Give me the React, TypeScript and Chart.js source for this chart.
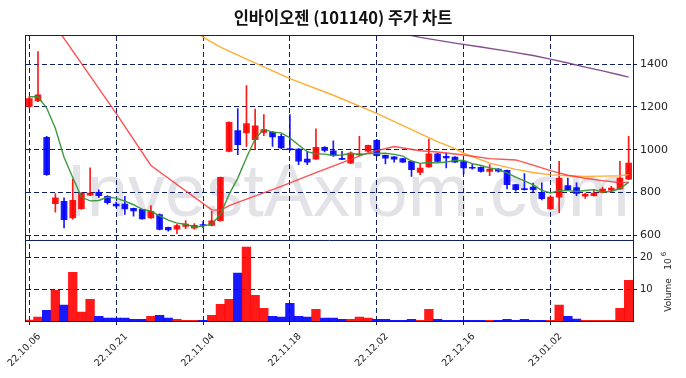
import React, { useEffect, useRef } from "react";
import { Chart, registerables } from "chart.js";

Chart.register(...registerables);

const TITLE = "인바이오젠 (101140) 주가 차트";

const dates = [
  "22.10.06", "22.10.07", "22.10.11", "22.10.12", "22.10.13", "22.10.14", "22.10.17", "22.10.18", "22.10.19", "22.10.20",
  "22.10.21", "22.10.24", "22.10.25", "22.10.26", "22.10.27", "22.10.28", "22.10.31", "22.11.01", "22.11.02", "22.11.03",
  "22.11.04", "22.11.07", "22.11.08", "22.11.09", "22.11.10", "22.11.11", "22.11.14", "22.11.15", "22.11.16", "22.11.17",
  "22.11.18", "22.11.21", "22.11.22", "22.11.23", "22.11.24", "22.11.25", "22.11.28", "22.11.29", "22.11.30", "22.12.01",
  "22.12.02", "22.12.05", "22.12.06", "22.12.07", "22.12.08", "22.12.09", "22.12.12", "22.12.13", "22.12.14", "22.12.15",
  "22.12.16", "22.12.19", "22.12.20", "22.12.21", "22.12.22", "22.12.23", "22.12.26", "22.12.27", "22.12.28", "22.12.29",
  "23.01.02", "23.01.03", "23.01.04", "23.01.05", "23.01.06", "23.01.09", "23.01.10", "23.01.11", "23.01.12", "23.01.13",
];

const opens = [
  1203, 1229, 1058, 747, 758, 680, 724, 787, 800, 782,
  745, 745, 725, 720, 680, 696, 636, 628, 640, 632,
  648, 645, 667, 992, 1089, 1078, 1047, 1081, 1082, 1062,
  1003, 1003, 956, 956, 1011, 995, 960, 937, 976, 993,
  1044, 973, 967, 958, 945, 894, 919, 981, 969, 965,
  944, 917, 917, 898, 909, 903, 836, 818, 825, 800,
  723, 778, 832, 823, 782, 785, 800, 810, 816, 862,
];
const highs = [
  1249, 1460, 1062, 794, 775, 862, 800, 915, 812, 785,
  755, 781, 727, 722, 738, 700, 637, 650, 668, 654,
  663, 711, 872, 1130, 1192, 1300, 1190, 1164, 1085, 1073,
  1165, 1005, 992, 1098, 1015, 1042, 992, 990, 1062, 1022,
  1048, 975, 968, 960, 947, 933, 1050, 983, 984, 968,
  946, 933, 920, 930, 912, 905, 838, 888, 844, 845,
  785, 945, 867, 845, 797, 813, 825, 828, 945, 1062,
];
const lows = [
  1197, 1225, 880, 707, 633, 675, 720, 785, 775, 745,
  730, 697, 688, 675, 678, 624, 618, 607, 630, 628,
  633, 643, 665, 990, 977, 1015, 1000, 1066, 1015, 1005,
  995, 930, 930, 954, 990, 968, 953, 935, 972, 990,
  970, 933, 941, 940, 875, 883, 917, 942, 914, 940,
  886, 909, 895, 878, 895, 816, 806, 810, 800, 765,
  720, 705, 810, 785, 772, 782, 798, 805, 814, 860,
];
const closes = [
  1239, 1257, 883, 775, 672, 763, 795, 797, 785, 752,
  737, 722, 713, 676, 711, 626, 624, 644, 652, 646,
  645, 667, 870, 1128, 1023, 1122, 1112, 1094, 1060, 1008,
  1000, 946, 942, 1011, 996, 972, 954, 984, 980, 1020,
  972, 960, 956, 942, 906, 914, 981, 945, 962, 942,
  914, 913, 898, 909, 899, 836, 813, 813, 813, 770,
  778, 867, 812, 795, 792, 797, 816, 820, 867, 937,
];
// volume in millions of shares
const volumes = [
  0.3, 1.2, 3.4, 9.7, 5.0, 15.4, 2.8, 6.8, 1.5, 0.9,
  0.9, 0.9, 0.5, 0.5, 1.5, 1.8, 0.9, 0.5, 0.2, 0.2,
  0.2, 1.8, 5.3, 6.8, 15.1, 23.3, 8.1, 4.0, 1.5, 1.2,
  5.6, 1.5, 1.2, 3.7, 0.9, 0.9, 0.5, 0.5, 1.2, 0.9,
  0.5, 0.5, 0.2, 0.2, 0.5, 0.2, 3.7, 0.5, 0.2, 0.2,
  0.2, 0.2, 0.2, 0.2, 0.2, 0.5, 0.2, 0.5, 0.2, 0.2,
  0.2, 5.0, 1.5, 0.6, 0.2, 0.2, 0.2, 0.2, 4.0, 12.8,
];

// moving averages
const ma5 = [
  1248, 1248, 1195, 1100, 965, 870, 778, 760, 762, 778,
  773, 759, 742, 720, 712, 690, 670, 656, 651, 638,
  642, 651, 696, 791, 867, 962, 1051, 1096, 1082, 1079,
  1055, 1022, 991, 981, 979, 973, 975, 983, 977, 982,
  982, 983, 978, 970, 947, 936, 940, 938, 942, 949,
  949, 935, 926, 915, 907, 891, 871, 854, 835, 809,
  797, 808, 808, 804, 809, 813, 802, 804, 818, 847,
];
const ma20Idx = [0, 10, 14, 21, 22, 23, 24, 29, 33, 37, 39, 42, 45, 47, 50, 53, 56, 58, 60, 62, 64, 66, 68, 69];
const ma20Val = [1755, 1170, 926, 718, 716, 738, 753, 828, 893, 955, 985, 1015, 995, 989, 975, 958, 952, 928, 902, 880, 866, 855, 845, 848];
const ma60Idx = [19, 20, 22, 24, 27, 30, 35, 40, 45, 47, 49, 50, 52, 53, 56, 58, 60, 62, 64, 66, 68, 69];
const ma60Val = [1560, 1527, 1480, 1443, 1388, 1333, 1255, 1170, 1075, 1038, 1005, 984, 952, 937, 908, 893, 882, 878, 875, 876, 878, 883];
const ma120Idx = [44, 45, 49, 52, 55, 58, 60, 62, 64, 66, 68, 69];
const ma120Val = [1535, 1526, 1499, 1481, 1462, 1441, 1424, 1406, 1387, 1369, 1350, 1340];

const priceTicks = [600, 800, 1000, 1200, 1400];
const volumeTicks = [10, 20];
const xTickIdx = [0, 10, 20, 30, 40, 50, 60];

const UP = "rgba(255,0,0,0.9)";
const DOWN = "rgba(0,0,255,0.9)";
const NAVY = "#0f1f5f";
const FONT = "DejaVu Sans";

const pts = (xs: number[], ys: number[]) => xs.map((x, i) => ({ x, y: ys[i] }));

const noPad = (s: any) => {
  s.paddingLeft = 0;
  s.paddingRight = 0;
  s.paddingTop = 0;
  s.paddingBottom = 0;
};

const decor = {
  id: "decor",
  beforeDraw(chart: any) {
    const { ctx } = chart;
    ctx.save();
    ctx.fillStyle = "#ffffff";
    ctx.fillRect(0, 0, chart.width, chart.height);
    ctx.font = '74px "Liberation Sans"';
    ctx.fillStyle = "rgba(226,226,231,1)";
    ctx.textAlign = "center";
    ctx.textBaseline = "alphabetic";
    ctx.fillText("InvestAxiom.com", 348, 216);
    ctx.restore();
  },
  afterDraw(chart: any) {
    const { ctx, chartArea: a } = chart;
    const yv = chart.scales.yv;
    ctx.save();
    ctx.strokeStyle = NAVY;
    ctx.lineWidth = 1;
    ctx.setLineDash([]);
    const L = Math.round(a.left) - 0.5;
    const R = Math.round(a.right) + 0.5;
    const T = Math.round(a.top) - 0.5;
    const B = Math.round(a.bottom) + 0.5;
    ctx.strokeRect(L, T, R - L, B - T);
    const S = Math.round(yv.top) + 0.5;
    ctx.beginPath();
    ctx.moveTo(L, S);
    ctx.lineTo(R, S);
    ctx.stroke();

    ctx.fillStyle = "#111";
    ctx.font = 'bold 16.5px "Noto Sans CJK KR"';
    ctx.textAlign = "center";
    ctx.textBaseline = "middle";
    ctx.fillText(TITLE, 343, 18);

    ctx.fillStyle = "#222";
    ctx.font = `9px "${FONT}"`;
    ctx.save();
    ctx.translate(669, 295);
    ctx.rotate(-Math.PI / 2);
    ctx.textAlign = "center";
    ctx.textBaseline = "middle";
    ctx.fillText("Volume", 0, 0);
    ctx.restore();
    ctx.save();
    ctx.translate(669, 264);
    ctx.rotate(-Math.PI / 2);
    ctx.textAlign = "center";
    ctx.textBaseline = "middle";
    ctx.fillText("10", 0, 0);
    ctx.font = `7px "${FONT}"`;
    ctx.fillText("6", 10, -5);
    ctx.restore();
    ctx.restore();
  },
};

export default function App() {
  const ref = useRef<HTMLCanvasElement | null>(null);
  useEffect(() => {
    if (!ref.current) return;
    const up = closes.map((c, i) => c >= opens[i]);
    const colors = up.map((u) => (u ? UP : DOWN));
    const idx = closes.map((_, i) => i);

    const lineDs = (label: string, data: any[], color: string, width = 1.4) => ({
      type: "line" as const,
      label,
      data,
      yAxisID: "y",
      borderColor: color,
      borderWidth: width,
      pointRadius: 0,
      tension: 0,
      fill: false,
    });

    const chart = new Chart(ref.current, {
      type: "bar",
      data: {
        datasets: [
          lineDs("MA5", pts(idx, ma5), "rgba(50,150,50,0.95)"),
          lineDs("MA20", pts(ma20Idx, ma20Val), "rgba(255,50,50,0.85)"),
          lineDs("MA60", pts(ma60Idx, ma60Val), "rgba(255,170,40,0.95)"),
          lineDs("MA120", pts(ma120Idx, ma120Val), "rgba(120,60,130,0.9)"),
          {
            type: "bar",
            label: "body",
            data: idx.map((i) => ({ x: i, y: [opens[i], closes[i]] })) as any,
            yAxisID: "y",
            backgroundColor: colors,
            barThickness: 6,
            minBarLength: 1,
            grouped: false,
          },
          {
            type: "bar",
            label: "wick",
            data: idx.map((i) => ({ x: i, y: [lows[i], highs[i]] })) as any,
            yAxisID: "y",
            backgroundColor: colors,
            barThickness: 1,
            grouped: false,
          },
          {
            type: "bar",
            label: "volume",
            data: idx.map((i) => ({ x: i, y: volumes[i] })) as any,
            yAxisID: "yv",
            backgroundColor: colors,
            barPercentage: 1,
            categoryPercentage: 1,
            grouped: false,
          },
        ] as any,
      },
      options: {
        responsive: false,
        devicePixelRatio: 1,
        animation: false,
        events: [],
        layout: { padding: { left: 26, top: 36, right: 0, bottom: 0 } },
        plugins: { legend: { display: false }, tooltip: { enabled: false }, title: { display: false } },
        scales: {
          x: {
            type: "linear",
            min: -0.38,
            max: 69.5,
            offset: false,
            afterBuildTicks: (s: any) => {
              s.ticks = xTickIdx.map((v) => ({ value: v }));
            },
            afterFit: (s: any) => {
              s.height = 57;
              noPad(s);
            },
            grid: { color: NAVY, offset: false, drawTicks: true, tickLength: 4, tickBorderDash: [] },
            border: { display: false, dash: [5, 3] },
            ticks: {
              autoSkip: false,
              minRotation: 45,
              maxRotation: 45,
              padding: 6,
              labelOffset: 10,
              color: "#222",
              font: { family: FONT, size: 9.5 },
              callback: (v: any) => dates[Math.round(Number(v))] ?? "",
            },
          },
          y: {
            type: "linear",
            position: "right",
            stack: "panels",
            stackWeight: 2.5,
            min: 578.9,
            max: 1532.6,
            afterBuildTicks: (s: any) => {
              s.ticks = priceTicks.map((v) => ({ value: v }));
            },
            afterFit: (s: any) => {
              s.width = 53;
              noPad(s);
            },
            grid: { color: NAVY, drawTicks: true, tickLength: 4, tickBorderDash: [] },
            border: { display: false, dash: [5, 3] },
            ticks: { padding: 3, color: "#222", font: { family: FONT, size: 11 }, callback: (v: any) => String(v) },
          },
          yv: {
            type: "linear",
            position: "right",
            stack: "panels",
            stackWeight: 1,
            min: 0,
            max: 25.7,
            afterBuildTicks: (s: any) => {
              s.ticks = volumeTicks.map((v) => ({ value: v }));
            },
            afterFit: (s: any) => {
              s.width = 53;
              noPad(s);
            },
            grid: { color: NAVY, drawTicks: true, tickLength: 4, tickBorderDash: [] },
            border: { display: false, dash: [5, 3] },
            ticks: { padding: 3, color: "#222", font: { family: FONT, size: 10 }, callback: (v: any) => String(v) },
          },
        },
      } as any,
      plugins: [decor],
    });
    return () => chart.destroy();
  }, []);

  return (
    <div style={{ position: "fixed", left: 0, top: 0, width: 686, height: 378, background: "#fff" }}>
      <canvas ref={ref} width={686} height={378} style={{ width: 686, height: 378, display: "block" }} />
    </div>
  );
}
